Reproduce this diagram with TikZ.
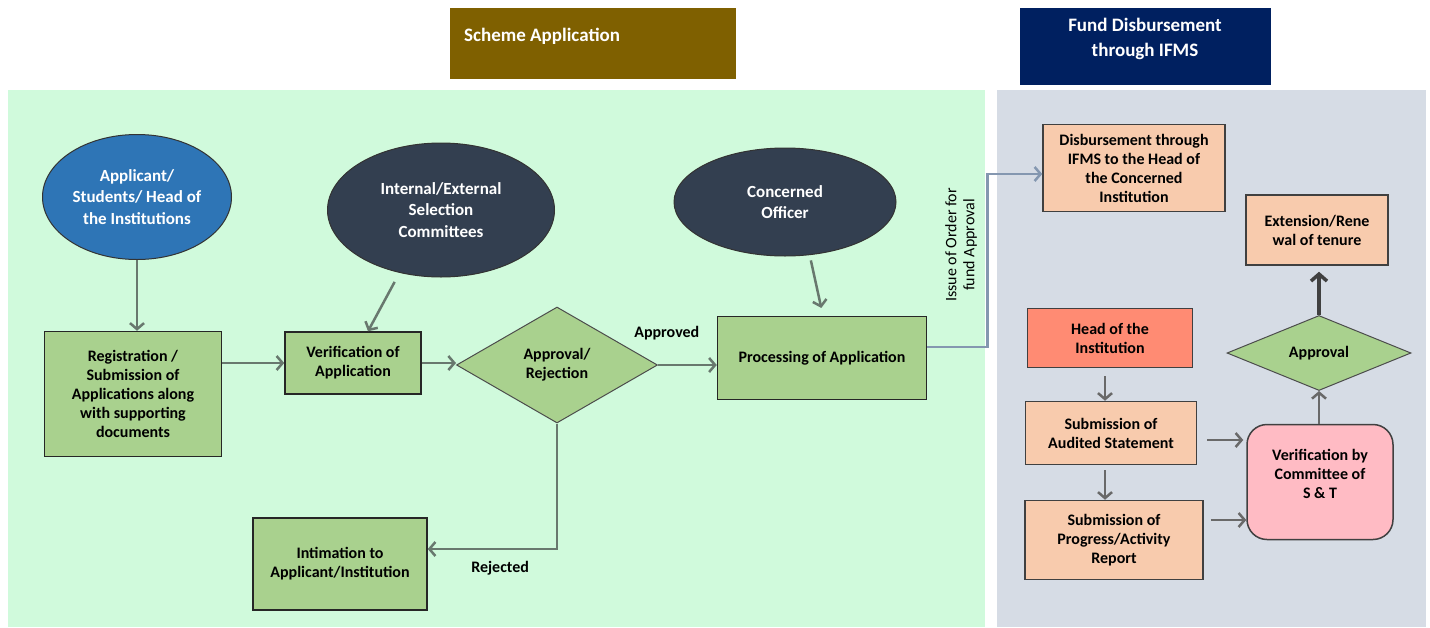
\documentclass[tikz,border=0pt]{standalone}
\usepackage{fontspec}
\setmainfont{Carlito}
\usetikzlibrary{shapes.geometric,arrows.meta}
\definecolor{schemebrown}{RGB}{127,96,0}
\definecolor{fundnavy}{RGB}{0,32,96}
\definecolor{panelgreen}{RGB}{208,250,220}
\definecolor{panelgrey}{RGB}{214,220,229}
\definecolor{applblue}{RGB}{46,117,182}
\definecolor{slatedark}{RGB}{51,63,80}
\definecolor{leafgreen}{RGB}{169,209,142}
\definecolor{peach}{RGB}{248,203,173}
\definecolor{salmon}{RGB}{255,139,115}
\definecolor{rosepink}{RGB}{255,187,196}
\definecolor{flowgray}{RGB}{104,120,110}
\definecolor{sidegray}{RGB}{105,105,105}
\definecolor{linkblue}{RGB}{132,151,176}

\begin{document}
\begin{tikzpicture}[x=1pt,y=-1pt,
  every node/.style={font=\bfseries\fontsize{16}{19}\selectfont, align=center, inner sep=2pt},
  gbox/.style={rectangle, draw=black!85, line width=1.5pt, fill=leafgreen},
  pbox/.style={rectangle, draw=black!75, line width=1.5pt, fill=peach},
  oval/.style={ellipse, draw=black!80, line width=1pt, text=white, inner sep=0pt, font=\bfseries\fontsize{17}{21.5}\selectfont},
  choice/.style={diamond, draw=black!70, line width=1pt, fill=leafgreen, inner sep=0pt},
  flow/.style={draw=flowgray, line width=2.5pt, -{Straight Barb[length=6pt,width=14pt]}},
  sideflow/.style={draw=sidegray, line width=2.5pt, -{Straight Barb[length=6pt,width=14pt]}},
  lbl/.style={font=\bfseries\fontsize{16}{19}\selectfont}]
\useasboundingbox (0,0) rectangle (1430,627);
\fill[panelgreen] (8,90) rectangle (985,627);
\fill[panelgrey] (997,90) rectangle (1426,627);
\fill[schemebrown] (450,8) rectangle (736,79);
\fill[fundnavy] (1020,8) rectangle (1271,85);
\node[anchor=west, text=white, font=\bfseries\fontsize{19}{23}\selectfont] (schemehead) at (462,36) {Scheme Application};
\node[text=white, font=\bfseries\fontsize{19}{25}\selectfont] (fundhead) at (1145,39) {Fund Disbursement\\through IFMS};

\node[oval, fill=applblue, minimum width=189pt, minimum height=125pt] (appl) at (137,197) {Applicant/\\Students/ Head of\\the Institutions};
\node[oval, fill=slatedark, minimum width=227pt, minimum height=134pt] (sel) at (441,210) {Internal/External\\Selection\\Committees};
\node[oval, fill=slatedark, minimum width=222pt, minimum height=108pt] (officer) at (785,202) {Concerned\\Officer};

\node[gbox, minimum width=177pt, minimum height=125pt] (reg) at (133,394) {Registration /\\Submission of\\Applications along\\with supporting\\documents};
\node[gbox, minimum width=136pt, minimum height=62pt] (verif) at (353,363) {Verification of\\Application};
\node[choice, minimum width=201pt, minimum height=116pt] (appr) at (557,365) {Approval/\\Rejection};
\node[gbox, minimum width=209pt, minimum height=83pt] (proc) at (822,358) {Processing of Application};
\node[gbox, minimum width=174pt, minimum height=92pt] (intim) at (340,564) {Intimation to\\Applicant/Institution};

\node[pbox, minimum width=182pt, minimum height=87pt] (disb) at (1134,168) {Disbursement through\\IFMS to the Head of\\the Concerned\\Institution};
\node[pbox, minimum width=142pt, minimum height=70pt] (ext) at (1317,230) {Extension/Rene\\wal of tenure};
\node[rectangle, draw=black!75, line width=1.5pt, fill=salmon, minimum width=165pt, minimum height=59pt] (head) at (1110,338) {Head of the\\Institution};
\node[pbox, minimum width=171pt, minimum height=63pt] (audit) at (1111,433) {Submission of\\Audited Statement};
\node[pbox, minimum width=178pt, minimum height=79pt] (prog) at (1114,540) {Submission of\\Progress/Activity\\Report};
\node[rectangle, rounded corners=20pt, draw=black!75, line width=1.5pt, fill=rosepink, minimum width=146pt, minimum height=115pt] (stcom) at (1320,482) {Verification by\\Committee of\\S \& T\\[-2pt]\mbox{}};
\node[choice, minimum width=184pt, minimum height=75pt] (okay) at (1319,353) {Approval};

\draw[flow] (appl.south) -- (appl.south |- reg.north);
\draw[flow, shorten <=5pt] ([xshift=-44pt]sel.south) -- ([xshift=15pt]verif.north);
\draw[flow] (reg.east |- verif) -- (verif.west);
\draw[flow] (verif.east) -- (verif.east -| appr.west);
\draw[flow] (appr.east) -- node[lbl, pos=0.15, above=22pt] {Approved} (appr.east -| proc.west);
\draw[flow] (appr.south) |- node[lbl, pos=0.72, below=9pt] {Rejected} ([yshift=15pt]intim.east);
\draw[flow, shorten <=4pt, shorten >=8pt] ([xshift=25pt]officer.south) -- ([xshift=1pt]proc.north);

\draw[draw=linkblue, line width=2.5pt, -{Straight Barb[length=6pt,width=14pt]}] ([yshift=11pt]proc.east) -- ++(60,0) |- ([yshift=-6pt]disb.west);
\node[font=\fontsize{16}{18}\selectfont, rotate=90] (issue) at (961,245) {Issue of Order for\\fund Approval};

\draw[sideflow, shorten <=8pt] ([xshift=-5pt]head.south) -- ([xshift=-6pt]audit.north);
\draw[sideflow, shorten <=5pt] ([xshift=-6pt]audit.south) -- ([xshift=-9pt]prog.north);
\draw[sideflow, shorten <=10pt, shorten >=3pt] ([yshift=-7pt]audit.east) -- ([yshift=-7pt]audit.east -| stcom.west);
\draw[sideflow, shorten <=7pt] ([yshift=20pt]prog.east) -- ([yshift=20pt]prog.east -| stcom.west);
\draw[sideflow] (stcom.north -| okay.south) -- (okay.south);
\draw[draw=black!75, line width=3.5pt, -{Straight Barb[length=7pt,width=16pt]}, shorten >=6pt] (okay.north) -- (okay.north |- ext.south);
\end{tikzpicture}
\end{document}
